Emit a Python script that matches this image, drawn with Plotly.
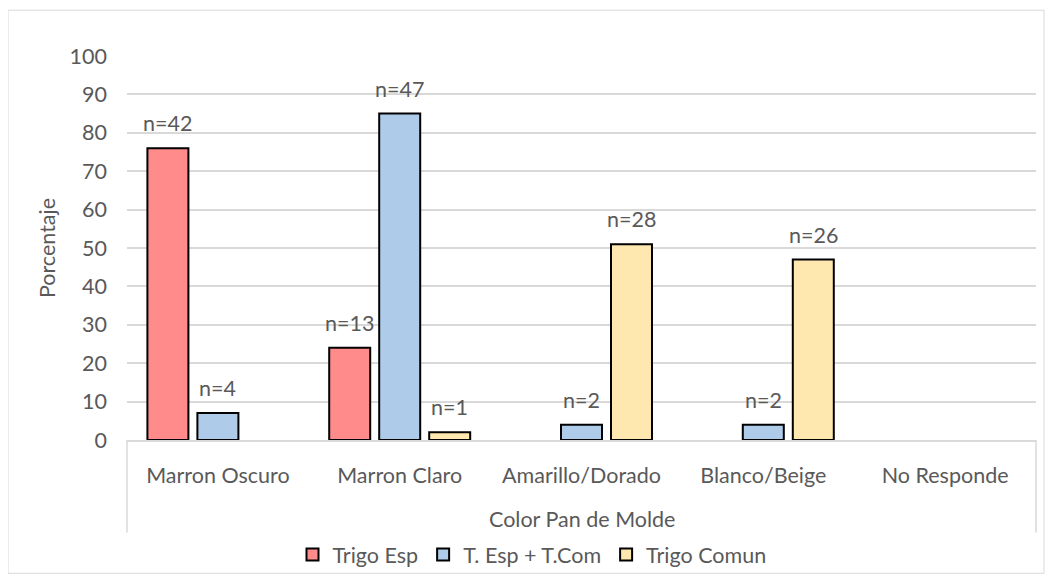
import plotly.graph_objects as go

categories = ["Marron Oscuro", "Marron Claro", "Amarillo/Dorado", "Blanco/Beige", "No Responde"]
series_names = ["Trigo Esp", "T. Esp + T.Com", "Trigo Comun"]
trigo_esp = [76, 24, None, None, None]
esp_com = [7, 85, 4, 4, None]
trigo_comun = [None, 2, 51, 47, None]
n_trigo_esp = ["n=42", "n=13", "", "", ""]
n_esp_com = ["n=4", "n=47", "n=2", "n=2", ""]
n_trigo_comun = ["", "n=1", "n=28", "n=26", ""]
y_ticks = [0, 10, 20, 30, 40, 50, 60, 70, 80, 90, 100]

colors = ["#FF8B8B", "#AECCEA", "#FFE8B0"]
FONT = "Lato"
FS = 21.5
TXT = "#595959"
OFF = 8  # page body margin
W, H = 1053 - OFF, 587 - OFF
L, R, T, B = 127 - OFF, 1053 - 1036, 56 - OFF, 587 - 442
BARGAP = 0.175
GROUPGAP = 0.18

fig = go.Figure()
all_vals = [trigo_esp, esp_com, trigo_comun]
all_labels = [n_trigo_esp, n_esp_com, n_trigo_comun]
for name, vals, col in zip(series_names, all_vals, colors):
    fig.add_trace(go.Bar(
        name=name, x=categories, y=vals,
        marker=dict(color=col, line=dict(color="#000000", width=2)),
    ))

plot_w = W - L - R
slot = plot_w / len(categories) * (1 - BARGAP) / 3
for i, (vals, labs) in enumerate(zip(all_vals, all_labels)):
    for c, v, lab in zip(categories, vals, labs):
        if v is None or not lab:
            continue
        fig.add_annotation(x=c, y=v, text=lab, showarrow=False,
                           xref="x", yref="y", yanchor="bottom",
                           xshift=(i - 1) * slot, yshift=10,
                           font=dict(family=FONT, size=FS, color=TXT))

ph = H - T - B
def py(pix):  # page pixel -> paper
    return (H - B - (pix - OFF)) / ph
def px(pix):
    return (pix - OFF - L) / plot_w

# outer chart border
fig.add_shape(type="rect", xref="paper", yref="paper",
              x0=px(8), x1=px(1044), y0=py(576), y1=py(10),
              line=dict(color="#D9D9D9", width=1), layer="below")
# category box vertical lines
for xv in [0, 1]:
    fig.add_shape(type="line", xref="paper", yref="paper",
                  x0=xv, x1=xv, y0=0, y1=py(535),
                  line=dict(color="#D9D9D9", width=1.5))

fig.add_annotation(text="Color Pan de Molde", xref="paper", yref="paper",
                   x=0.5, y=py(521), showarrow=False, yanchor="middle",
                   font=dict(family=FONT, size=FS, color=TXT))

fig.update_layout(
    width=W, height=H, autosize=False,
    margin=dict(l=L, r=R, t=T, b=B),
    paper_bgcolor="white", plot_bgcolor="white",
    barmode="group", bargap=BARGAP, bargroupgap=GROUPGAP,
    font=dict(family=FONT, size=FS, color=TXT),
    showlegend=True,
    legend=dict(orientation="h", x=px(532), xanchor="center",
                y=py(557), yanchor="middle", bgcolor="rgba(0,0,0,0)",
                font=dict(family=FONT, size=FS, color=TXT),
                itemsizing="constant", traceorder="normal"),
    xaxis=dict(showgrid=False, showline=True, linecolor="#D9D9D9", linewidth=1.5,
               ticks="", ticklabelstandoff=15, tickfont=dict(family=FONT, size=FS, color=TXT)),
    yaxis=dict(range=[0, 100], tickvals=y_ticks, showgrid=True, gridcolor="#D9D9D9",
               gridwidth=1.5, zeroline=False, showline=False, ticks="",
               ticklabelstandoff=19,
               tickfont=dict(family=FONT, size=FS, color=TXT),
               title=dict(text="Porcentaje", font=dict(family=FONT, size=FS, color=TXT), standoff=8)),
)

fig.write_html("out.html")
